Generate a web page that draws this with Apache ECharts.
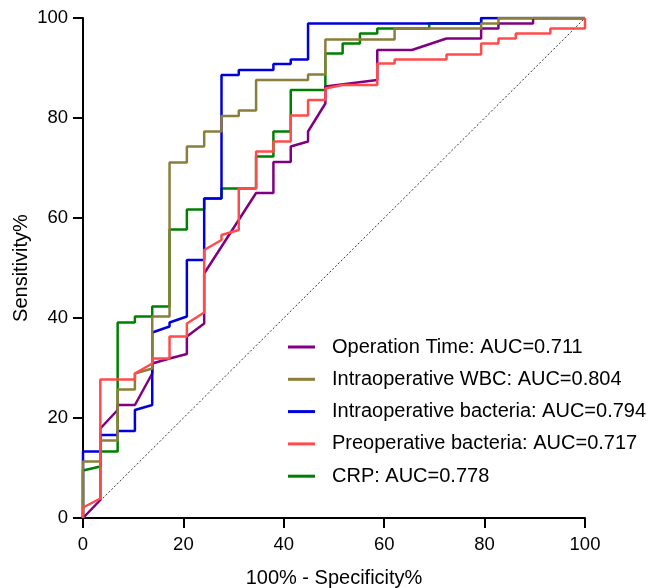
<!DOCTYPE html>
<html>
<head>
<meta charset="utf-8">
<script src="https://cdn.jsdelivr.net/npm/echarts@6/dist/echarts.min.js"></script>
<style>
html,body{margin:0;padding:0;background:#fff;}
#chart{width:648px;height:588px;}
</style>
</head>
<body>
<div id="chart"></div>
<script>
// ROC curve vertices: [100% - Specificity%, Sensitivity%]
var operationTime = [[0,0],[3.45,3.6],[3.45,17.9],[6.9,21.6],[6.9,22.6],[10.34,22.6],[13.79,28.9],[13.79,30.9],[17.24,31.9],[20.69,32.8],[20.69,36.3],[24.14,38.9],[24.14,48.9],[34.48,65.0],[37.93,65.0],[37.93,71.2],[41.38,71.2],[41.38,74.3],[44.83,75.3],[44.83,77.3],[48.28,82.9],[48.28,86.3],[58.62,87.6],[58.62,93.6],[65.52,93.6],[72.41,95.9],[79.31,95.9],[79.31,97.9],[82.76,97.9],[82.76,98.9],[89.66,98.9],[89.66,100],[100,100]];
var intraWBC = [[0,0],[0,11.3],[3.45,11.3],[3.45,15.5],[6.9,15.5],[6.9,25.7],[10.34,25.7],[10.34,28.9],[13.79,29.9],[13.79,40.3],[17.24,40.3],[17.24,71.1],[20.69,71.1],[20.69,74.3],[24.14,74.3],[24.14,77.3],[27.59,77.3],[27.59,80.4],[31.03,80.4],[31.03,81.5],[34.48,81.5],[34.48,87.6],[44.83,87.6],[44.83,88.7],[48.28,88.7],[48.28,95.7],[62.07,95.7],[62.07,97.9],[79.31,97.9],[79.31,98.9],[82.76,98.9],[82.76,100],[100,100]];
var intraBacteria = [[0,0],[0,13.3],[3.45,13.3],[3.45,16.6],[6.9,16.6],[6.9,17.4],[10.34,17.4],[10.34,21.6],[13.79,22.6],[13.79,37.1],[17.24,38.3],[17.24,39.1],[20.69,40.3],[20.69,51.6],[24.14,51.6],[24.14,63.9],[27.59,63.9],[27.59,88.6],[31.03,88.6],[31.03,89.6],[37.93,89.6],[37.93,90.8],[41.38,90.8],[41.38,91.7],[44.83,91.7],[44.83,98.9],[79.31,98.9],[79.31,100],[100,100]];
var preBacteria = [[0,0],[0,2.1],[3.45,3.9],[3.45,27.7],[10.34,27.7],[10.34,28.9],[13.79,30.9],[13.79,31.9],[17.24,31.9],[17.24,36.3],[20.69,36.3],[20.69,38.9],[24.14,41.1],[24.14,53.6],[27.59,55.6],[27.59,56.6],[31.03,57.6],[31.03,65.9],[34.48,65.9],[34.48,73.3],[37.93,73.3],[37.93,75.3],[41.38,75.3],[41.38,80.5],[44.83,80.5],[44.83,83.6],[48.28,83.6],[48.28,85.9],[51.72,86.6],[58.62,86.6],[58.62,90.9],[62.07,90.9],[62.07,91.7],[72.41,91.7],[72.41,92.7],[79.31,92.7],[79.31,94.9],[82.76,94.9],[82.76,95.9],[86.21,95.9],[86.21,96.9],[93.1,96.9],[93.1,97.9],[100,97.9],[100,100]];
var crp = [[0,0],[0,9.5],[3.45,10.3],[3.45,13.3],[6.9,13.3],[6.9,39.1],[10.34,39.1],[10.34,40.3],[13.79,40.3],[13.79,42.3],[17.24,42.3],[17.24,57.7],[20.69,57.7],[20.69,61.7],[24.14,61.7],[24.14,63.9],[27.59,63.9],[27.59,65.9],[34.48,65.9],[34.48,72.3],[37.93,72.3],[37.93,77.3],[41.38,77.3],[41.38,85.6],[48.28,85.6],[48.28,92.9],[51.72,92.9],[51.72,94.9],[55.17,94.9],[55.17,96.9],[58.62,96.9],[58.62,97.9],[68.97,97.9],[68.97,98.9],[79.31,98.9],[79.31,100],[100,100]];
var referenceLine = [[0,0],[100,100]];

var seriesNames = ['Operation Time: AUC=0.711','Intraoperative WBC: AUC=0.804','Intraoperative bacteria: AUC=0.794','Preoperative bacteria: AUC=0.717','CRP: AUC=0.778'];
var tickValues = [0,20,40,60,80,100];
var xTitle = '100% - Specificity%';
var yTitle = 'Sensitivity%';

var FONT = '"Liberation Sans", Arial, sans-serif';
var chart = echarts.init(document.getElementById('chart'), null, {renderer:'canvas'});

function axis(name, gap, labelMargin) {
  return {
    type:'value', min:tickValues[0], max:tickValues[tickValues.length-1], interval:20,
    name:name, nameLocation:'middle', nameGap:gap, nameMoveOverlap:false,
    nameTextStyle:{color:'#000', fontSize:20, fontFamily:FONT},
    axisLine:{show:true, onZero:false, lineStyle:{color:'#000', width:2}},
    axisTick:{show:true, inside:false, length:10, lineStyle:{color:'#000', width:2}},
    axisLabel:{color:'#000', fontSize:18.5, fontFamily:FONT, margin:labelMargin},
    splitLine:{show:false}
  };
}

function lineSeries(name, data, color, z) {
  return {name:name, type:'line', data:data, symbol:'none', z:z,
    lineStyle:{color:color, width:2.5}, itemStyle:{color:color}};
}

chart.setOption({
  animation:false,
  backgroundColor:'#fff',
  grid:{left:83, top:18, width:502, height:500, containLabel:false, outerBoundsMode:'none'},
  xAxis: axis(xTitle, 50, 17),
  yAxis: axis(yTitle, 52, 15),
  legend:{
    data:seriesNames, orient:'vertical', left:283, top:332, itemGap:12.3,
    icon:'rect', itemWidth:27, itemHeight:3,
    textStyle:{color:'#000', fontSize:20, fontFamily:FONT, lineHeight:20, padding:[0,0,0,12]}
  },
  series:[
    {type:'line', data:referenceLine, symbol:'none', silent:true, z:1,
      lineStyle:{color:'#333', width:1, type:[2,2]}},
    lineSeries(seriesNames[4], crp, '#008000', 2),
    lineSeries(seriesNames[0], operationTime, '#800080', 3),
    lineSeries(seriesNames[2], intraBacteria, '#0000DD', 4),
    lineSeries(seriesNames[1], intraWBC, '#8B7D3A', 5),
    lineSeries(seriesNames[3], preBacteria, '#FF4B4B', 6)
  ]
});
</script>
</body>
</html>
